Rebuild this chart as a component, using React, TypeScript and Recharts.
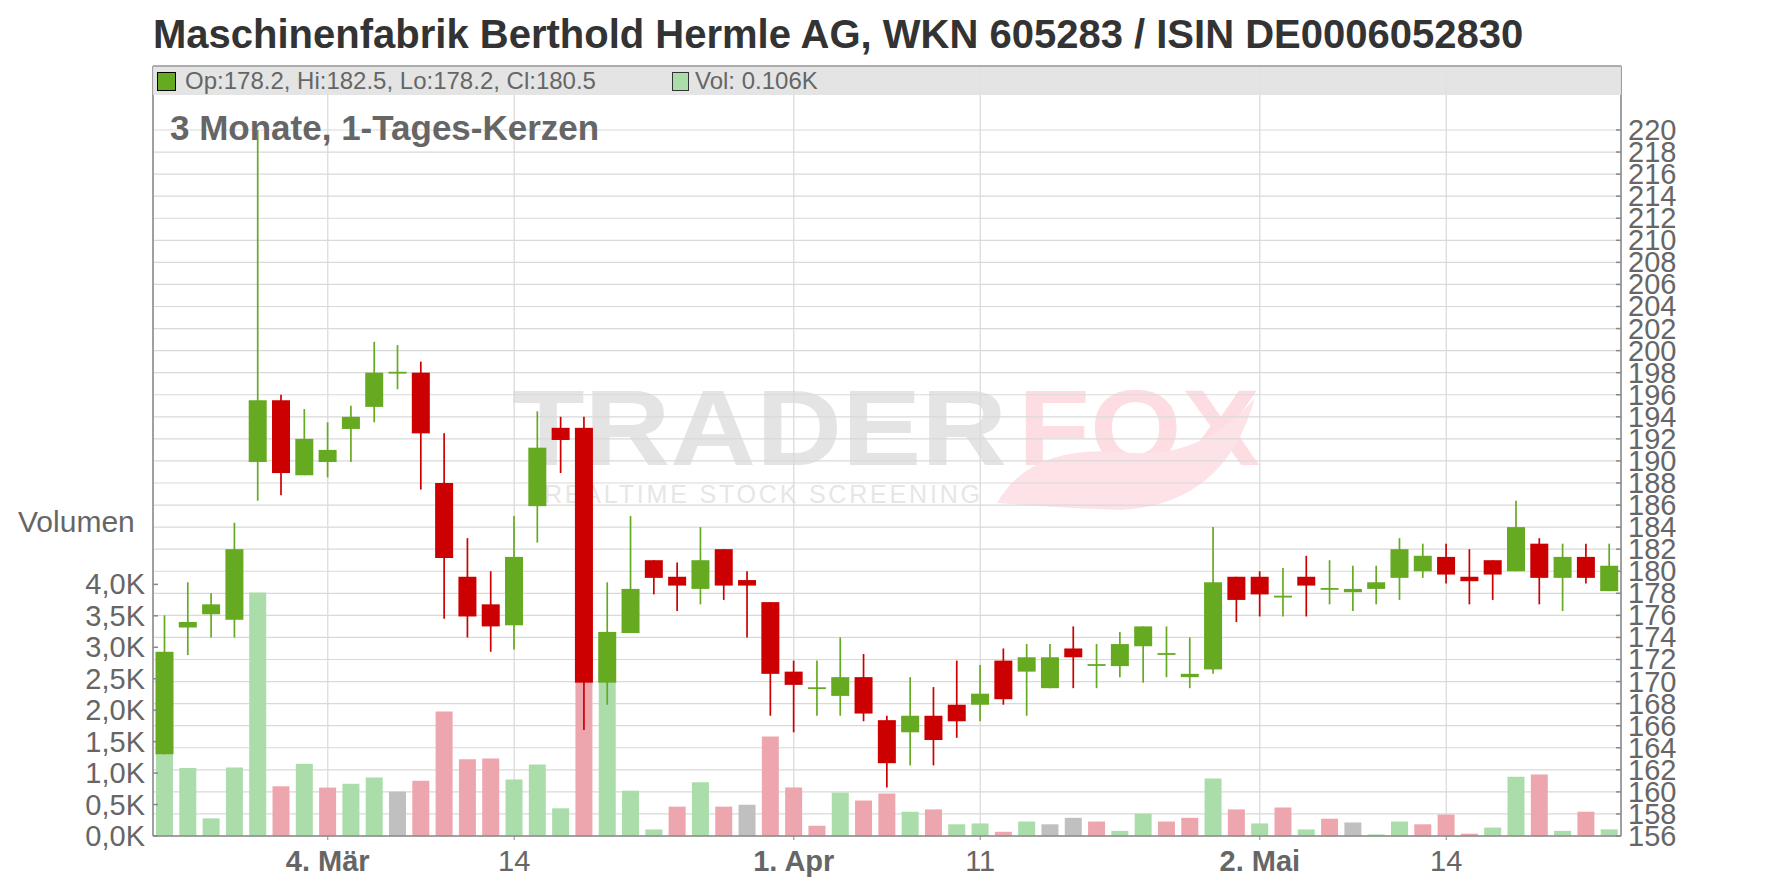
import { ComposedChart, Bar, XAxis, YAxis, CartesianGrid, Cell } from "recharts";

const FONT = '"Liberation Sans", Arial, sans-serif';
const GREEN = "#66aa22";
const RED = "#cc0000";
const VOL_UP = "#aadda9";
const VOL_DOWN = "#eea6ae";
const VOL_FLAT = "#c0c0c0";
const AXIS = "#888";
const TXT = "#666";

// trading days 2019
const dates = [
  "21.02.", "22.02.", "25.02.", "26.02.", "27.02.", "28.02.", "01.03.", "04.03.", "05.03.", "06.03.",
  "07.03.", "08.03.", "11.03.", "12.03.", "13.03.", "14.03.", "15.03.", "18.03.", "19.03.", "20.03.",
  "21.03.", "22.03.", "25.03.", "26.03.", "27.03.", "28.03.", "29.03.", "01.04.", "02.04.", "03.04.",
  "04.04.", "05.04.", "08.04.", "09.04.", "10.04.", "11.04.", "12.04.", "15.04.", "16.04.", "17.04.",
  "18.04.", "23.04.", "24.04.", "25.04.", "26.04.", "29.04.", "30.04.", "02.05.", "03.05.", "06.05.",
  "07.05.", "08.05.", "09.05.", "10.05.", "13.05.", "14.05.", "15.05.", "16.05.", "17.05.", "20.05.",
  "21.05.", "22.05.", "23.05.",
];

const opens = [
  163.4, 174.9, 176.1, 175.6, 189.9, 195.5, 188.7, 189.9, 192.9, 194.9,
  198.0, 198.0, 188.0, 179.5, 177.0, 175.1, 185.9, 193.0, 193.0, 169.9,
  174.4, 181.0, 179.5, 178.4, 182.0, 179.2, 177.2, 170.9, 169.4, 168.7,
  170.4, 166.5, 165.4, 166.9, 167.9, 167.9, 171.9, 170.9, 169.4, 173.0,
  171.5, 171.4, 173.2, 172.5, 170.4, 171.1, 179.5, 179.5, 177.7, 179.5,
  178.4, 178.1, 178.4, 179.4, 180.0, 181.3, 179.5, 181.0, 180.0, 182.5,
  179.4, 181.3, 178.2,
];

const highs = [
  176.0, 179.0, 178.0, 184.4, 220.0, 196.0, 194.7, 193.5, 195.0, 200.8,
  200.5, 199.0, 192.5, 183.0, 180.0, 185.0, 194.5, 194.0, 194.0, 179.0,
  185.0, 181.0, 180.8, 184.0, 182.0, 180.0, 177.2, 171.9, 171.9, 174.0,
  172.5, 166.9, 170.4, 169.5, 171.9, 171.5, 173.0, 173.4, 173.4, 175.0,
  173.4, 174.5, 175.0, 175.0, 174.0, 184.0, 179.5, 180.0, 180.3, 181.4,
  181.0, 180.5, 180.5, 183.0, 182.5, 182.5, 182.0, 181.0, 186.4, 183.0,
  182.5, 182.5, 182.5,
];

const lows = [
  163.4, 172.4, 174.0, 174.0, 186.4, 186.9, 188.7, 188.5, 189.9, 193.5,
  196.5, 187.4, 175.7, 174.0, 172.7, 172.9, 182.6, 188.9, 165.6, 167.9,
  174.4, 177.9, 176.4, 177.0, 177.4, 174.0, 166.9, 165.4, 166.9, 166.9,
  166.4, 160.4, 162.4, 162.4, 164.9, 166.4, 167.9, 166.9, 169.4, 169.4,
  169.4, 170.4, 169.9, 170.4, 169.4, 170.7, 175.4, 175.9, 175.9, 175.9,
  177.0, 176.4, 177.0, 177.4, 179.4, 178.9, 177.0, 177.4, 180.0, 177.0,
  176.4, 178.9, 178.2,
];

const closes = [
  172.7, 175.4, 177.0, 182.0, 195.5, 188.9, 192.0, 191.0, 194.0, 198.0,
  198.0, 192.5, 181.2, 175.9, 175.0, 181.3, 191.2, 191.9, 169.9, 174.5,
  178.4, 179.4, 178.7, 181.0, 178.7, 178.7, 170.7, 169.7, 169.4, 170.4,
  167.1, 162.6, 166.9, 164.7, 166.4, 168.9, 168.4, 172.2, 172.2, 172.2,
  171.5, 173.4, 175.0, 172.5, 170.7, 179.0, 177.4, 177.9, 177.7, 178.7,
  178.4, 178.4, 179.0, 182.0, 181.4, 179.7, 179.1, 179.7, 184.0, 179.4,
  181.3, 179.4, 180.5,
];

const volumes = [
  1300, 1080, 280, 1090, 3870, 790, 1150, 770, 830, 930,
  705, 880, 1980, 1220, 1230, 900, 1135, 440, 3000, 2600,
  720, 104, 467, 853, 467, 497, 1580, 772, 163, 690,
  564, 675, 386, 423, 186, 200, 67, 230, 186, 289,
  230, 82, 356, 230, 289, 913, 423, 200, 453, 104,
  275, 215, 25, 230, 186, 341, 37, 134, 942, 979,
  82, 386, 106,
];

const xTickDates = ["04.03.", "14.03.", "01.04.", "11.04.", "02.05.", "14.05."];
const xTickTexts = ["4. Mär", "14", "1. Apr", "11", "2. Mai", "14"];
const xTickBold = [true, false, true, false, true, false];

const priceTicks = [
  156, 158, 160, 162, 164, 166, 168, 170, 172, 174, 176, 178, 180, 182, 184, 186, 188,
  190, 192, 194, 196, 198, 200, 202, 204, 206, 208, 210, 212, 214, 216, 218, 220,
];
const volTicks = [0, 500, 1000, 1500, 2000, 2500, 3000, 3500, 4000];

const volColor = (i: number) => {
  if (i === 0 || closes[i] > closes[i - 1]) return VOL_UP;
  if (closes[i] < closes[i - 1]) return VOL_DOWN;
  return VOL_FLAT;
};

const Candle = (props: any) => {
  const { x, y, width, height, payload } = props;
  const top = Math.min(y, y + height);
  const bot = Math.max(y, y + height);
  const span = payload.h - payload.l;
  const py = (v: number) => (span === 0 ? top : bot - ((v - payload.l) / span) * (bot - top));
  const color = payload.c >= payload.o ? GREEN : RED;
  const cx = x + width / 2;
  const yo = py(payload.o);
  const yc = py(payload.c);
  const bh = Math.max(Math.abs(yo - yc), 1.8);
  const by = (yo + yc) / 2 - bh / 2;
  return (
    <g>
      <line x1={cx} x2={cx} y1={top} y2={bot} stroke={color} strokeWidth={1.7} />
      <rect x={cx - 9} y={by} width={18} height={bh} fill={color} />
    </g>
  );
};

const PriceTick = (props: any) => {
  const { x, y, payload } = props;
  return (
    <g>
      <line x1={x - 12} x2={x - 7} y1={y} y2={y} stroke={AXIS} strokeWidth={1.5} />
      <text x={x} y={y} dy={10} fill={TXT} fontSize={29} fontFamily={FONT} textAnchor="start">
        {payload.value}
      </text>
    </g>
  );
};

const VolTick = (props: any) => {
  const { x, y, payload } = props;
  const label = (payload.value / 1000).toFixed(1).replace(".", ",") + "K";
  return (
    <g>
      <line x1={x + 8} x2={x + 13} y1={y} y2={y} stroke={AXIS} strokeWidth={1.5} />
      <text x={x} y={y} dy={10} fill={TXT} fontSize={29} fontFamily={FONT} textAnchor="end">
        {label}
      </text>
    </g>
  );
};

const DateTick = (props: any) => {
  const { x, y, payload } = props;
  const k = xTickDates.indexOf(payload.value);
  return (
    <text
      x={x}
      y={y}
      dy={29}
      fill={TXT}
      fontSize={29}
      fontWeight={xTickBold[k] ? "bold" : "normal"}
      fontFamily={FONT}
      textAnchor="middle"
    >
      {xTickTexts[k]}
    </text>
  );
};

export default function App() {
  const data = dates.map((d, i) => ({
    d,
    o: opens[i],
    h: highs[i],
    l: lows[i],
    c: closes[i],
    v: volumes[i],
  }));
  const last = data[data.length - 1];

  return (
    <div style={{ position: "absolute", left: 0, top: 0, width: 1776, height: 888, background: "#fff", fontFamily: FONT }}>
      {/* watermark */}
      <svg width={1776} height={888} style={{ position: "absolute", left: 0, top: 0 }}>
        <text x={512} y={465} fontSize={108} fontWeight="bold" fontFamily={FONT} fill="#e4e4e4" textLength={495} lengthAdjust="spacingAndGlyphs">
          TRADER
        </text>
        <text x={1018} y={465} fontSize={108} fontWeight="bold" fontFamily={FONT} fill="#fddde2" textLength={242} lengthAdjust="spacingAndGlyphs">
          FOX
        </text>
        <path d="M 997 503 Q 1030 445 1120 452 Q 1200 462 1255 398 Q 1225 505 1120 510 Q 1060 508 997 503 Z" fill="#fde3e7" />
        <text x={544} y={503} fontSize={25} fontFamily={FONT} fill="#e6e6e6" textLength={436} lengthAdjust="spacing">
          REALTIME STOCK SCREENING
        </text>
      </svg>

      <div style={{ position: "absolute", left: 0, top: 0 }}>
        <ComposedChart width={1776} height={888} data={data} margin={{ top: 66, right: 55, bottom: 12, left: 13 }}>
          <CartesianGrid xAxisId="x" yAxisId="p" stroke="#d9d9d9" strokeWidth={1.2} />
          <XAxis xAxisId="c" dataKey="d" hide height={0} />
          <XAxis
            xAxisId="x"
            dataKey="d"
            ticks={xTickDates}
            interval={0}
            height={40}
            tick={DateTick}
            tickSize={4}
            tickMargin={2}
            axisLine={{ stroke: AXIS, strokeWidth: 1.5 }}
            tickLine={{ stroke: AXIS }}
          />
          <YAxis
            yAxisId="v"
            orientation="left"
            width={140}
            domain={[0, 12240]}
            ticks={volTicks}
            interval={0}
            allowDataOverflow
            tickSize={0}
            tickMargin={8}
            tick={VolTick}
            axisLine={{ stroke: AXIS, strokeWidth: 1.5 }}
          />
          <YAxis
            yAxisId="p"
            orientation="right"
            width={100}
            domain={[156, 225.8]}
            ticks={priceTicks}
            interval={0}
            allowDataOverflow
            tickSize={0}
            tickMargin={7}
            tick={PriceTick}
            axisLine={{ stroke: AXIS, strokeWidth: 1.5 }}
          />
          <Bar xAxisId="x" yAxisId="v" dataKey="v" barSize={17} isAnimationActive={false}>
            {data.map((e, i) => (
              <Cell key={e.d} fill={volColor(i)} />
            ))}
          </Bar>
          <Bar
            xAxisId="c"
            yAxisId="p"
            dataKey={(e: any) => [e.l, e.h]}
            barSize={17}
            shape={Candle}
            isAnimationActive={false}
          />
        </ComposedChart>
      </div>

      {/* title, legend band and labels */}
      <svg width={1776} height={888} style={{ position: "absolute", left: 0, top: 0, pointerEvents: "none" }}>
        <text x={153} y={48} fontSize={40} fontWeight="bold" fill="#333" fontFamily={FONT}>
          Maschinenfabrik Berthold Hermle AG, WKN 605283 / ISIN DE0006052830
        </text>
        <rect x={153} y={66} width={1468} height={29} fill="rgba(226,226,226,0.92)" />
        <line x1={153} x2={1621} y1={66} y2={66} stroke="#999" strokeWidth={1.5} />
        <rect x={157.5} y={72.5} width={18} height={18} fill={GREEN} stroke="#000" strokeWidth={1} />
        <text x={185} y={89} fontSize={24} fill={TXT} fontFamily={FONT}>
          {`Op:${last.o.toFixed(1)}, Hi:${last.h.toFixed(1)}, Lo:${last.l.toFixed(1)}, Cl:${last.c.toFixed(1)}`}
        </text>
        <rect x={672.5} y={72.5} width={16} height={18} fill={VOL_UP} stroke="#333" strokeWidth={1} />
        <text x={695} y={89} fontSize={24} fill={TXT} fontFamily={FONT}>
          {`Vol: ${(last.v / 1000).toFixed(3)}K`}
        </text>
        <text x={170} y={140} fontSize={35} fontWeight="bold" fill={TXT} fontFamily={FONT}>
          3 Monate, 1-Tages-Kerzen
        </text>
        <text x={18} y={532} fontSize={30} fill={TXT} fontFamily={FONT}>
          Volumen
        </text>
      </svg>
    </div>
  );
}
